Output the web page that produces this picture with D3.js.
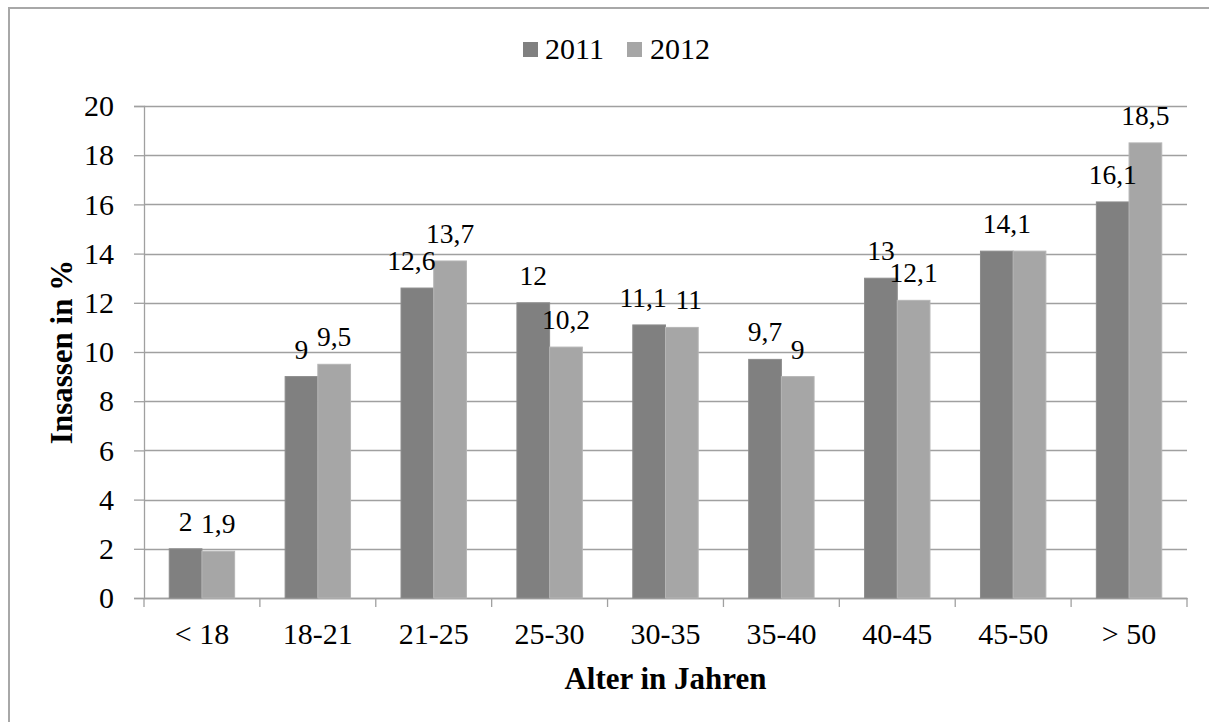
<!DOCTYPE html>
<html>
<head>
<meta charset="utf-8">
<script src="https://cdn.jsdelivr.net/npm/d3@7/dist/d3.min.js"></script>
<style>
  html, body { margin: 0; padding: 0; background: #fff; }
  svg { display: block; }
  svg text { font-family: "Liberation Serif", "Times New Roman", Times, serif !important; fill: #000; }
</style>
</head>
<body>
<svg id="chart" width="1209" height="722" font-family="Liberation Serif"></svg>
<script>
const categories = ["< 18", "18-21", "21-25", "25-30", "30-35", "35-40", "40-45", "45-50", "> 50"];
const seriesNames = ["2011", "2012"];
const values2011 = [2, 9, 12.6, 12, 11.1, 9.7, 13, 14.1, 16.1];
const values2012 = [1.9, 9.5, 13.7, 10.2, 11, 9, 12.1, 14.1, 18.5];
const yTicks = [0, 2, 4, 6, 8, 10, 12, 14, 16, 18, 20];
const hiddenLabels = [["45-50", "2012"]];
const colors = { "2011": "#808080", "2012": "#a6a6a6" };
const yTitle = "Insassen in %";
const xTitle = "Alter in Jahren";

(function () {
const SERIF = "'Liberation Serif', 'Times New Roman', serif";
const svg = d3.select("#chart");

// outer frame (right/bottom edges lie outside the picture)
svg.append("rect").attr("x", 9).attr("y", 8).attr("width", 1400).attr("height", 900)
  .attr("fill", "#fff").attr("stroke", "#a8a8a8").attr("stroke-width", 2);

const pLeft = 144, pRight = 1187, pTop = 106, pBottom = 598;

const x = d3.scaleBand().domain(categories).range([pLeft, pRight]).padding(0);
const xSub = d3.scaleBand().domain(seriesNames).range([0, x.bandwidth()]).paddingInner(0).paddingOuter(0.772);
const y = d3.scaleLinear().domain([0, 20]).range([pBottom, pTop]);

const gridColor = "#a0a0a0";

// gridlines
svg.append("g").selectAll("line").data(yTicks).join("line")
  .attr("x1", pLeft).attr("x2", pRight)
  .attr("y1", d => Math.round(y(d)) + 0.5).attr("y2", d => Math.round(y(d)) + 0.5)
  .attr("stroke", gridColor).attr("stroke-width", 1.3);

// y axis
const yAxis = svg.append("g").attr("transform", `translate(${pLeft},0)`)
  .call(d3.axisLeft(y).tickValues(yTicks).tickSize(10).tickPadding(20).tickFormat(d3.format("d")));
yAxis.attr("font-family", null);
yAxis.select(".domain").attr("stroke", gridColor).attr("stroke-width", 1.3);
yAxis.selectAll(".tick line").attr("stroke", gridColor).attr("stroke-width", 1.3);
yAxis.selectAll(".tick text").style("font-family", SERIF).style("font-size", "30px").attr("fill", "#000");

// x axis with ticks at category boundaries
const xAxis = svg.append("g").attr("transform", `translate(0,${pBottom})`)
  .call(d3.axisBottom(x).tickSize(0).tickPadding(26));
xAxis.attr("font-family", null);
xAxis.select(".domain").attr("stroke", gridColor).attr("stroke-width", 1.3);
xAxis.selectAll(".tick text").style("font-family", SERIF).style("font-size", "30px").attr("fill", "#000").attr("dy", "0.68em");
const boundaries = categories.map(c => x(c)).concat([x(categories[categories.length - 1]) + x.bandwidth()]);
svg.append("g").selectAll("line").data(boundaries).join("line")
  .attr("x1", d => d).attr("x2", d => d)
  .attr("y1", pBottom).attr("y2", pBottom + 9)
  .attr("stroke", gridColor).attr("stroke-width", 1.3);

// bars
const rows = [];
categories.forEach((c, i) => {
  rows.push({ cat: c, series: "2011", value: values2011[i] });
  rows.push({ cat: c, series: "2012", value: values2012[i] });
});

svg.append("g").selectAll("rect").data(rows).join("rect")
  .attr("x", d => x(d.cat) + xSub(d.series))
  .attr("y", d => y(d.value))
  .attr("width", xSub.bandwidth())
  .attr("height", d => y(0) - y(d.value))
  .attr("fill", d => colors[d.series])
  .attr("stroke", d => d3.color(colors[d.series]).brighter(0.25))
  .attr("stroke-width", 1);

// data labels (small horizontal nudges like the original's hand-placed labels)
const nudge = { "21-25|2011": -6, "30-35|2011": -6, "30-35|2012": 7, "45-50|2011": 10 };
const fmt = v => String(v).replace(".", ",");
const isHidden = d => hiddenLabels.some(h => h[0] === d.cat && h[1] === d.series);
svg.append("g").selectAll("text").data(rows.filter(d => !isHidden(d))).join("text")
  .attr("x", d => x(d.cat) + xSub(d.series) + xSub.bandwidth() / 2 + (nudge[d.cat + "|" + d.series] || 0))
  .attr("y", d => y(d.value) - 18)
  .attr("text-anchor", "middle")
  .style("font-family", SERIF).style("font-size", "27.5px")
  .text(d => fmt(d.value));

// axis titles
svg.append("text")
  .attr("transform", `translate(72,${(pTop + pBottom) / 2}) rotate(-90)`)
  .attr("text-anchor", "middle").style("font-family", SERIF).style("font-size", "31px").style("font-weight", "bold")
  .text(yTitle);
svg.append("text")
  .attr("x", (pLeft + pRight) / 2).attr("y", 689)
  .attr("text-anchor", "middle").style("font-family", SERIF).style("font-size", "31px").style("font-weight", "bold")
  .text(xTitle);

// legend
const legendItems = [
  { name: "2011", sx: 523, tx: 545 },
  { name: "2012", sx: 627, tx: 650 }
];
const lg = svg.append("g");
lg.selectAll("rect").data(legendItems).join("rect")
  .attr("x", d => d.sx).attr("y", 42).attr("width", 15).attr("height", 15)
  .attr("fill", d => colors[d.name]);
lg.selectAll("text").data(legendItems).join("text")
  .attr("x", d => d.tx).attr("y", 59).style("font-family", SERIF).style("font-size", "30px")
  .text(d => d.name);
})();
</script>
</body>
</html>
